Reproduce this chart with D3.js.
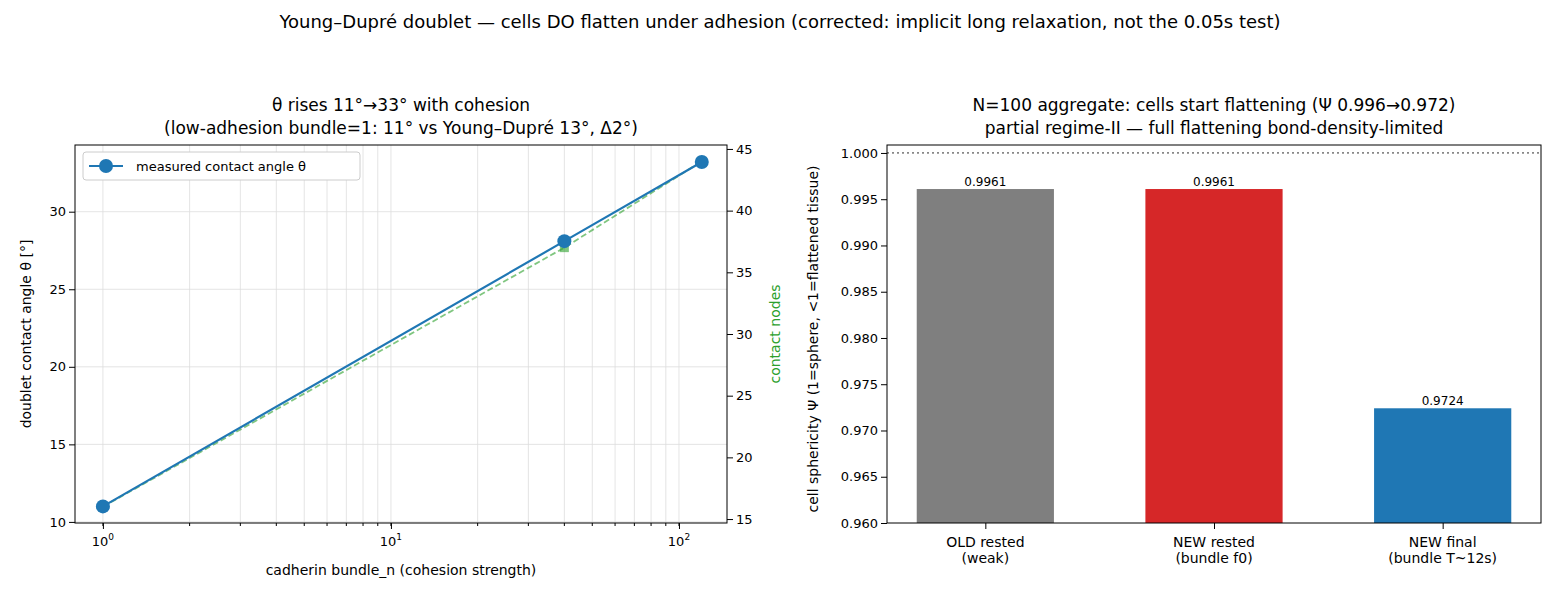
<!DOCTYPE html><html><head><meta charset="utf-8"><script src="https://cdn.jsdelivr.net/npm/d3@7"></script>
<style>body{margin:0;background:#fff}text{font-family:"DejaVu Sans",sans-serif;fill:#000}</style></head><body>
<svg id="c" width="1560" height="600"></svg>
<script>
const bundleN=[1,40,120];
const thetaVals=[11.0,28.1,33.2];
const contactNodes=[16,37,44];
const barCats=["OLD rested\n(weak)","NEW rested\n(bundle f0)","NEW final\n(bundle T~12s)"];
const barVals=[0.9961,0.9961,0.9724];
const barColors=["#7f7f7f","#d62728","#1f77b4"];
const svg=d3.select("#c");
svg.append("text").attr("x",780).attr("y",28).attr("text-anchor","middle").attr("font-size",18)
 .text("Young–Dupré doublet — cells DO flatten under adhesion (corrected: implicit long relaxation, not the 0.05s test)");
// Left
const L={l:75,r:727,t:145,b:523};
const x=d3.scaleLog().domain([0.8,146.8]).range([L.l,L.r]);
const y=d3.scaleLinear().domain([9.93,34.3]).range([L.b,L.t]);
const y2=d3.scaleLinear().domain([14.68,45.32]).range([L.b,L.t]);
const g=svg.append("g");
const minorTicks=[];for(let e=0;e<3;e++)for(let k=1;k<10;k++){const v=k*10**e;if(v>=0.8&&v<=146.8)minorTicks.push(v);}
g.selectAll(".vg").data(minorTicks).join("line").attr("x1",d=>x(d)).attr("x2",d=>x(d)).attr("y1",L.t).attr("y2",L.b).attr("stroke","#ddd").attr("stroke-width",0.8);
g.selectAll(".hg").data([10,15,20,25,30]).join("line").attr("x1",L.l).attr("x2",L.r).attr("y1",d=>y(d)).attr("y2",d=>y(d)).attr("stroke","#ddd").attr("stroke-width",0.8);
const ln=d3.line().x((d,i)=>x(bundleN[i]));
g.append("path").attr("d",ln.y(d=>y2(d))(contactNodes)).attr("fill","none").attr("stroke","#2ca02c").attr("stroke-opacity",0.6).attr("stroke-width",1.8).attr("stroke-dasharray","6,3");
g.selectAll(".sq").data(contactNodes).join("rect").attr("x",(d,i)=>x(bundleN[i])-4.5).attr("y",d=>y2(d)-4.5).attr("width",9).attr("height",9).attr("fill","#2ca02c").attr("fill-opacity",0.6);
g.append("path").attr("d",ln.y(d=>y(d))(thetaVals)).attr("fill","none").attr("stroke","#1f77b4").attr("stroke-width",2.2);
g.selectAll(".pt").data(thetaVals).join("circle").attr("cx",(d,i)=>x(bundleN[i])).attr("cy",d=>y(d)).attr("r",7).attr("fill","#1f77b4");
g.append("rect").attr("x",L.l).attr("y",L.t).attr("width",L.r-L.l).attr("height",L.b-L.t).attr("fill","none").attr("stroke","#000");
const xa=g.append("g").attr("transform",`translate(0,${L.b})`).call(d3.axisBottom(x).tickValues([1,10,100]).tickFormat(()=>"").tickSizeOuter(0));
xa.call(a=>a.select(".domain").remove());
xa.append("g").selectAll("line").data(minorTicks).join("line").attr("x1",d=>x(d)).attr("x2",d=>x(d)).attr("y2",3).attr("stroke","#000");
[[1,"0"],[10,"1"],[100,"2"]].forEach(([v,e])=>{const t=g.append("text").attr("x",x(v)).attr("y",L.b+23).attr("text-anchor","middle").attr("font-size",13);t.append("tspan").text("10");t.append("tspan").attr("dy",-6).attr("font-size",9).text(e);});
g.append("g").attr("transform",`translate(${L.l},0)`).call(d3.axisLeft(y).tickValues([10,15,20,25,30])).call(a=>{a.select(".domain").remove();a.selectAll("text").attr("font-size",13).style("font-family","DejaVu Sans");});
g.append("g").attr("transform",`translate(${L.r},0)`).call(d3.axisRight(y2).tickValues([15,20,25,30,35,40,45])).call(a=>{a.select(".domain").remove();a.selectAll("text").attr("font-size",13).style("font-family","DejaVu Sans");});
g.append("text").attr("x",(L.l+L.r)/2).attr("y",575).attr("text-anchor","middle").attr("font-size",14).text("cadherin bundle_n (cohesion strength)");
g.append("text").attr("transform",`translate(31,${(L.t+L.b)/2}) rotate(-90)`).attr("text-anchor","middle").attr("font-size",14).text("doublet contact angle θ [°]");
g.append("text").attr("transform",`translate(780,${(L.t+L.b)/2}) rotate(-90)`).attr("text-anchor","middle").attr("font-size",14).style("fill","#2ca02c").text("contact nodes");
g.append("text").attr("x",(L.l+L.r)/2).attr("y",111).attr("text-anchor","middle").attr("font-size",17).text("θ rises 11°→33° with cohesion");
g.append("text").attr("x",(L.l+L.r)/2).attr("y",134).attr("text-anchor","middle").attr("font-size",17).text("(low-adhesion bundle=1: 11° vs Young–Dupré 13°, Δ2°)");
const lg=g.append("g");
lg.append("rect").attr("x",83).attr("y",152).attr("width",277).attr("height",28).attr("rx",3).attr("fill","#fff").attr("stroke","#ccc");
lg.append("line").attr("x1",89).attr("x2",123).attr("y1",166).attr("y2",166).attr("stroke","#1f77b4").attr("stroke-width",2.2);
lg.append("circle").attr("cx",106).attr("cy",166).attr("r",7).attr("fill","#1f77b4");
lg.append("text").attr("x",136).attr("y",171).attr("font-size",13).text("measured contact angle θ");
// Right
const R={l:887,r:1541,t:145,b:523};
const xb=d3.scaleLinear().domain([-0.43,2.43]).range([R.l,R.r]);
const bw=xb(0.6)-xb(0);
const yb=d3.scaleLinear().domain([0.96,1.00086]).range([R.b,R.t]);
const h=svg.append("g");
h.selectAll(".b").data(barVals).join("rect").attr("x",(d,i)=>xb(i-0.3)).attr("width",bw).attr("y",d=>yb(d)).attr("height",d=>R.b-yb(d)).attr("fill",(d,i)=>barColors[i]);
h.selectAll(".bl").data(barVals).join("text").attr("x",(d,i)=>xb(i)).attr("y",d=>yb(d)-3).attr("text-anchor","middle").attr("font-size",12).text(d=>d.toFixed(4));
h.append("line").attr("x1",R.l).attr("x2",R.r).attr("y1",yb(1)).attr("y2",yb(1)).attr("stroke","#888").attr("stroke-width",1.8).attr("stroke-dasharray","2,3");
h.append("rect").attr("x",R.l).attr("y",R.t).attr("width",R.r-R.l).attr("height",R.b-R.t).attr("fill","none").attr("stroke","#000");
h.append("g").attr("transform",`translate(${R.l},0)`).call(d3.axisLeft(yb).tickValues(d3.range(0,9).map(i=>0.96+i*0.005)).tickFormat(d3.format(".3f"))).call(a=>{a.select(".domain").remove();a.selectAll("text").attr("font-size",13).style("font-family","DejaVu Sans");});
const xa2=h.append("g").attr("transform",`translate(0,${R.b})`).call(d3.axisBottom(xb).tickValues([0,1,2]).tickFormat("").tickSizeOuter(0));
xa2.select(".domain").remove();
barCats.forEach((c,i)=>{c.split("\n").forEach((s,j)=>h.append("text").attr("x",xb(i)).attr("y",R.b+24+j*16).attr("text-anchor","middle").attr("font-size",14).text(s));});
h.append("text").attr("transform",`translate(818,${(R.t+R.b)/2+5}) rotate(-90)`).attr("text-anchor","middle").attr("font-size",14).text("cell sphericity Ψ (1=sphere, <1=flattened tissue)");
h.append("text").attr("x",(R.l+R.r)/2).attr("y",111).attr("text-anchor","middle").attr("font-size",17).text("N=100 aggregate: cells start flattening (Ψ 0.996→0.972)");
h.append("text").attr("x",(R.l+R.r)/2).attr("y",134).attr("text-anchor","middle").attr("font-size",17).text("partial regime-II — full flattening bond-density-limited");
</script></body></html>
